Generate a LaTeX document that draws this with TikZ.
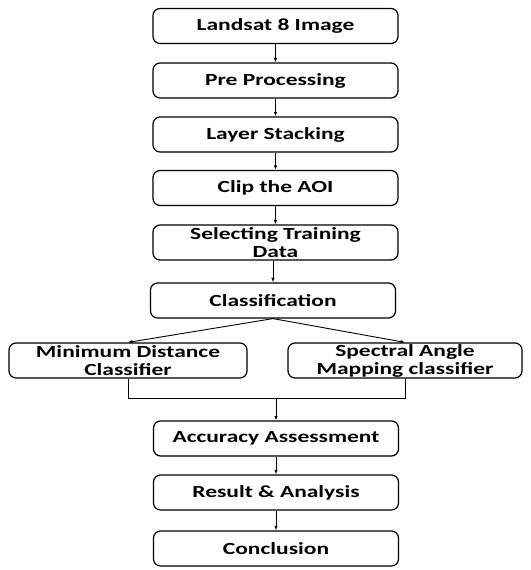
\documentclass[tikz,border=0pt]{standalone}
\usepackage{fontspec}
\newfontfamily\boxfont[FakeStretch=1.38]{Carlito}
\usetikzlibrary{arrows.meta}
\begin{document}
\begin{tikzpicture}[x=1pt,y=-1pt,
  stepbox/.style={draw=black,line width=1.2pt,rounded corners=7pt,
    minimum width=245pt,minimum height=35pt,align=center,inner sep=0pt,
    font=\boxfont\bfseries\fontsize{17}{18}\selectfont},
  sidebox/.style={stepbox,minimum width=238pt},
  flow/.style={draw=black,line width=0.9pt,-{Latex[length=4.5pt,width=3.5pt]}},
  link/.style={draw=black,line width=0.9pt}]
\useasboundingbox (0,0) rectangle (530,570);
\node[stepbox] (img) at (275.5,26) {Landsat 8 Image};
\node[stepbox] (pre) at (275.5,80.5) {Pre Processing};
\node[stepbox] (lay) at (275.5,134.5) {Layer Stacking};
\node[stepbox] (aoi) at (275.5,188) {Clip the AOI};
\node[stepbox] (trn) at (275.5,242.5) {Selecting Training\\Data};
\node[stepbox] (cls) at (273,300.5) {Classification};
\node[sidebox] (mdc) at (128,360.5) {Minimum Distance\\Classifier};
\node[sidebox,minimum width=234pt] (sam) at (405,360.5) {Spectral Angle\\Mapping classifier};
\node[stepbox] (acc) at (276,438.5) {Accuracy Assessment};
\node[stepbox] (res) at (276,492.5) {Result \& Analysis};
\node[stepbox] (con) at (276,548.5) {Conclusion};
\coordinate (join) at (276,398.5);
\draw[flow] (img) -- (pre);
\draw[flow] (pre) -- (lay);
\draw[flow] (lay) -- (aoi);
\draw[flow] (aoi) -- (trn);
\draw[flow] (trn.south -| cls.north) -- (cls);
\draw[flow] (cls.south) -- (mdc.north);
\draw[flow] (cls.south) -- (sam.north);
\draw[link] (mdc.south) |- (join) -| (sam.south);
\draw[flow] (join) -- (acc.north);
\draw[flow] (acc) -- (res);
\draw[flow] (res) -- (con);
\end{tikzpicture}
\end{document}
